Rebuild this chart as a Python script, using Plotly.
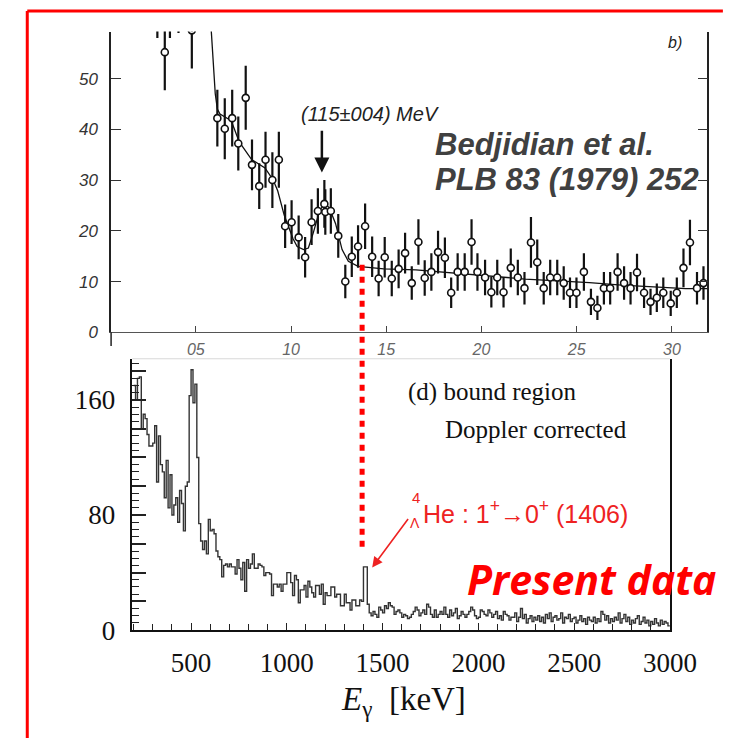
import plotly.graph_objects as go

W, H = 739, 742

# ---------------- top panel data (Bedjidian et al.) ----------------
top_energy_mev = [0.298, 0.337, 0.364, 0.409, 0.479, 0.613, 0.652, 0.691, 0.723, 0.762,
                  0.795, 0.833, 0.866, 0.902, 0.936, 0.969, 1.003, 1.040, 1.074, 1.108,
                  1.141, 1.175, 1.180, 1.209, 1.248, 1.285, 1.319, 1.352, 1.389, 1.426,
                  1.460, 1.492, 1.529, 1.565, 1.599, 1.634, 1.669, 1.702, 1.737, 1.772,
                  1.808, 1.841, 1.875, 1.912, 1.948, 1.979, 2.019, 2.052, 2.083, 2.116,
                  2.154, 2.191, 2.226, 2.260, 2.293, 2.327, 2.361, 2.398, 2.432, 2.465,
                  2.499, 2.538, 2.575, 2.609, 2.643, 2.676, 2.715, 2.749, 2.783, 2.817,
                  2.854, 2.888, 2.921, 2.955, 2.994, 3.026, 3.061, 3.095, 3.132, 3.166]
top_counts = [68, 55.2, 68, 68, 59.5, 42.2, 40.1, 42.2, 37.2, 46.2,
              33.0, 28.8, 34.0, 30.0, 34.0, 20.9, 21.7, 18.7, 14.8, 21.7,
              23.9, 25.3, 23.7, 23.9, 19.0, 10.0, 14.9, 16.9, 20.9, 14.9,
              10.6, 14.8, 10.6, 12.5, 15.6, 9.7, 17.8, 10.7, 11.9, 15.8,
              14.7, 7.8, 11.9, 11.9, 17.8, 11.9, 10.8, 7.9, 10.8, 7.9,
              12.7, 10.8, 8.7, 17.7, 13.8, 8.7, 10.8, 10.8, 9.7, 7.8,
              7.8, 11.9, 6.0, 4.8, 8.7, 8.7, 11.9, 9.7, 8.7, 11.8,
              7.8, 6.0, 6.8, 7.8, 5.7, 7.8, 12.7, 17.7, 8.7, 9.7]
top_err = [10, 7.5, 10, 9, 7.5, 5.6, 6, 5.6, 5.3, 6.3,
           5, 4.5, 5.5, 5.5, 5.5, 4.3, 4.3, 4.3, 4, 4.5,
           4.5, 4.7, 4.5, 4.5, 4.3, 3.3, 4, 4.2, 4.5, 4,
           3.5, 4, 3.5, 3.8, 4, 3.3, 4.5, 3.5, 3.7, 4.2,
           4, 3, 3.7, 3.7, 4.5, 3.7, 3.5, 3, 3.5, 3,
           3.8, 3.5, 3.2, 5, 4.5, 3.2, 3.5, 3.5, 3.3, 3,
           3, 3.7, 2.6, 2.4, 3.2, 3.2, 3.7, 3.3, 3.2, 3.7,
           3, 2.6, 2.8, 3, 2.5, 3, 3.8, 4.5, 3.2, 3.3]

fit_energy_mev = [0.570, 0.581, 0.591, 0.602, 0.613, 0.627, 0.686, 0.728, 0.794, 0.863,
                  0.905, 0.930, 0.964, 0.990, 1.010, 1.032, 1.066, 1.091, 1.116, 1.150,
                  1.175, 1.200, 1.234, 1.268, 1.301, 1.352, 1.386, 1.487, 1.656, 1.892,
                  2.230, 2.567, 2.736, 3.073, 3.187]
fit_counts = [66, 59, 52, 47, 44.0, 43.0, 41.7, 37.5, 34.0, 32.4,
              30.1, 27.9, 23.1, 20.5, 18.5, 16.9, 16.3, 16.6, 19.5, 24.0,
              25.3, 24.6, 21.4, 16.3, 14.0, 13.0, 12.9, 12.5, 12.3, 11.5,
              10.5, 9.8, 9.3, 8.6, 8.6]

top_tick_vals = [0.5, 1.0, 1.5, 2.0, 2.5, 3.0]
top_tick_text = ["05", "10", "15", "20", "25", "30"]
top_y_ticks = [0, 10, 20, 30, 40, 50]

# ---------------- bottom panel data (present data) ----------------
bin_start_kev = 200
bin_width_kev = 10
hist_counts = [
    170, 160, 175, 176, 140, 150, 147, 136, 128, 128,   # 200-290
    130, 142, 103, 135, 115, 110, 92, 118, 85, 108,     # 300-390
    80, 87, 92, 75, 97, 88, 69, 100, 103, 163,          # 400-490
    181, 158, 171, 120, 74, 62, 56, 62, 53, 77,         # 500-590
    69, 70, 67, 55, 51, 49, 37, 45, 46, 44,             # 600-690
    46, 44, 44, 39, 49, 43, 35, 47, 27, 49,             # 700-790
    43, 46, 53, 43, 43, 46, 45, 44, 38, 40,             # 800-890
    40, 39, 24, 32, 32, 30, 32, 27, 32, 32,             # 900-990
    40, 40, 33, 24, 38, 35, 19, 28, 28, 31,             # 1000-1090
    23, 34, 30, 26, 23, 31, 31, 25, 32, 18,             # 1100-1190
    26, 24, 24, 30, 30, 23, 25, 25, 17, 17,             # 1200-1290
    25, 19, 19, 14, 21, 21, 17, 17, 21, 20,             # 1300-1390
    44, 44, 18, 12, 10, 13, 11, 9, 16, 14,              # 1400-1490
    12, 17, 15, 19, 17, 16, 11, 13, 14, 12,             # 1500-1590
    9, 11, 10, 8, 9, 11, 13, 16, 14, 10,                # 1600-1690
    12, 14, 11, 18, 16, 11, 9, 14, 9, 11,               # 1700-1790
    13, 11, 16, 11, 9, 14, 10, 12, 15, 8,               # 1800-1890
    10, 13, 11, 9, 11, 13, 16, 14, 10, 8,               # 1900-1990
    9, 14, 13, 11, 10, 14, 12, 9, 11, 13,               # 2000-2090
    8, 10, 7, 13, 11, 10, 7, 9, 9, 12,                  # 2100-2190
    6, 9, 15, 8, 11, 5, 8, 10, 6, 9,                    # 2200-2290
    7, 10, 6, 9, 5, 11, 8, 12, 6, 9,                    # 2300-2390
    10, 7, 8, 12, 5, 9, 8, 11, 6, 8,                    # 2400-2490
    9, 5, 7, 10, 6, 8, 4, 9, 7, 6,                      # 2500-2590
    9, 5, 8, 6, 13, 11, 7, 10, 5, 8,                    # 2600-2690
    6, 9, 7, 12, 5, 8, 11, 6, 9, 4,                     # 2700-2790
    7, 5, 8, 10, 4, 6, 9, 5, 7, 3,                      # 2800-2890
    6, 4, 8, 5, 3, 7, 4, 6, 5, 3,                       # 2900-2990
]
bot_x_ticks = [500, 1000, 1500, 2000, 2500, 3000]
bot_y_ticks = [0, 80, 160]
bot_y_mid_ticks = list(range(0, 181, 20))
line_energy_kev = 1393

# build step histogram from bins
edges = [bin_start_kev + i * bin_width_kev for i in range(len(hist_counts) + 1)]
step_y = hist_counts + [hist_counts[-1]]


def px(x):
    return x / W


def py(y):
    return 1 - y / H


fig = go.Figure()

fig.add_trace(go.Scatter(x=fit_energy_mev, y=fit_counts, mode="lines",
                         line=dict(color="#111", width=1.3),
                         xaxis="x", yaxis="y", showlegend=False, hoverinfo="skip"))
fig.add_trace(go.Scatter(x=top_energy_mev, y=top_counts, mode="markers",
                         marker=dict(symbol="circle", size=7, color="white",
                                     line=dict(color="#111", width=1.6)),
                         error_y=dict(type="data", array=top_err, visible=True,
                                      color="#111", thickness=2.2, width=0),
                         xaxis="x", yaxis="y", showlegend=False))
fig.add_trace(go.Scatter(x=edges, y=step_y, mode="lines", line_shape="hv",
                         line=dict(color="#333", width=1.4),
                         xaxis="x2", yaxis="y2", showlegend=False))
# invisible trace to activate the tick-only overlay axis
fig.add_trace(go.Scatter(x=[edges[0]], y=[0], mode="markers", marker=dict(opacity=0),
                         xaxis="x2", yaxis="y3", showlegend=False, hoverinfo="skip"))

ital = dict(family="Liberation Sans", style="italic")
serif = "Liberation Serif"

fig.update_layout(
    width=W, height=H, margin=dict(l=0, r=0, t=0, b=0),
    paper_bgcolor="white", plot_bgcolor="rgba(0,0,0,0)",
    xaxis=dict(domain=[px(107), px(726)], range=[0.055, 3.187], anchor="y",
               showline=True, linecolor="#555", linewidth=1, ticks="inside",
               ticklen=6, tickcolor="#444", tickvals=top_tick_vals, ticktext=top_tick_text,
               tickfont=dict(size=16, color="#666", **ital), showgrid=False,
               zeroline=False, ticklabelstandoff=2),
    yaxis=dict(domain=[py(331), py(24)], range=[0, 59.27], anchor="x",
               showline=True, linecolor="#222", linewidth=1.5, mirror="ticks",
               ticks="inside", ticklen=10, tickcolor="#333", tickvals=top_y_ticks,
               tickfont=dict(size=17, color="#333", **ital), showgrid=False,
               zeroline=False, ticklabelstandoff=8),
    xaxis2=dict(domain=[px(129), px(687)], range=[193, 3000], anchor="y2",
                showline=True, linecolor="#111", linewidth=1.5, ticks="inside",
                ticklen=7, tickcolor="#222", tickwidth=1.3, tickvals=bot_x_ticks,
                minor=dict(dtick=100, tick0=0, ticklen=6, ticks="inside",
                           tickcolor="#222", tickwidth=1.3),
                tickfont=dict(size=27, color="#111", family=serif), showgrid=False,
                zeroline=False, ticklabelstandoff=8),
    yaxis2=dict(domain=[py(635), py(358)], range=[0, 188.6], anchor="x2",
                showline=True, linecolor="#111", linewidth=1.5, mirror=True,
                ticks="inside", ticklen=14, tickcolor="#222", tickwidth=1.5,
                tickvals=bot_y_ticks,
                minor=dict(dtick=5, tick0=0, ticklen=7, ticks="inside",
                           tickcolor="#222", tickwidth=1.3),
                tickfont=dict(size=27, color="#111", family=serif), showgrid=False,
                zeroline=False, ticklabelstandoff=10),
    yaxis3=dict(overlaying="y2", range=[0, 188.6], anchor="x2", side="left",
                showline=False, ticks="inside", ticklen=14, tickcolor="#222",
                tickwidth=1.5, tickvals=bot_y_mid_ticks, showticklabels=False,
                showgrid=False, zeroline=False),
)

ann = []
ann.append(dict(xref="paper", yref="paper", x=px(302), y=py(108), xanchor="left",
                yanchor="middle", text="(115±004) MeV", showarrow=False,
                font=dict(size=20, color="#222", **ital)))
ann.append(dict(xref="x", yref="y", x=1.162, y=31.5, ax=1.162, ay=40.0,
                axref="x", ayref="y", text="", showarrow=True, arrowhead=2,
                arrowsize=1.2, arrowwidth=2.5, arrowcolor="#111"))
ann.append(dict(xref="paper", yref="paper", x=px(441), y=py(139), xanchor="left",
                yanchor="middle", text="Bedjidian et al.", showarrow=False,
                font=dict(size=31, color="#404040", family="Liberation Sans",
                          weight="bold", style="italic")))
ann.append(dict(xref="paper", yref="paper", x=px(441), y=py(175), xanchor="left",
                yanchor="middle", text="PLB 83 (1979) 252", showarrow=False,
                font=dict(size=31, color="#404040", family="Liberation Sans",
                          weight="bold", style="italic")))
ann.append(dict(xref="paper", yref="paper", x=px(683), y=py(35), xanchor="left",
                yanchor="middle", text="b)", showarrow=False,
                font=dict(size=16, color="#222", **ital)))
ann.append(dict(xref="paper", yref="paper", x=px(413), y=py(392), xanchor="left",
                yanchor="middle", text="(d) bound region", showarrow=False,
                font=dict(size=25, color="#111", family=serif)))
ann.append(dict(xref="paper", yref="paper", x=px(452), y=py(430), xanchor="left",
                yanchor="middle", text="Doppler corrected", showarrow=False,
                font=dict(size=25, color="#111", family=serif)))
red = "#ee2222"
sans = "Liberation Sans"
ann.append(dict(xref="paper", yref="paper", x=px(423), y=py(500), xanchor="center",
                yanchor="middle", text="4", showarrow=False,
                font=dict(size=15, color=red, family=sans)))
ann.append(dict(xref="paper", yref="paper", x=px(422), y=py(526), xanchor="center",
                yanchor="middle", text="Λ", showarrow=False,
                font=dict(size=14, color=red, family=sans)))
ann.append(dict(xref="paper", yref="paper", x=px(429), y=py(514), xanchor="left",
                yanchor="middle",
                text="He : 1<sup>+</sup>→0<sup>+</sup> (1406)", showarrow=False,
                font=dict(size=25, color=red, family=sans)))
ann.append(dict(xref="paper", yref="paper", x=px(378), y=py(571),
                ax=37, ay=-50, axref="pixel", ayref="pixel", text="", showarrow=True,
                arrowhead=2, arrowsize=1.3, arrowwidth=1.6, arrowcolor=red))
ann.append(dict(xref="paper", yref="paper", x=px(474), y=py(583), xanchor="left",
                yanchor="middle", text="Present data", showarrow=False,
                font=dict(size=41, color="#ff0000", family="Open Sans",
                          weight="bold", style="italic")))
ann.append(dict(xref="paper", yref="paper", x=px(410), y=py(708), xanchor="center",
                yanchor="middle", text="<i>E</i><sub>γ</sub>  [keV]", showarrow=False,
                font=dict(size=33, color="#111", family=serif)))
fig.update_layout(annotations=ann)

shapes = [
    dict(type="line", xref="paper", yref="paper", x0=px(20), x1=px(20),
         y0=py(3), y1=py(745), line=dict(color="#ff0000", width=3)),
    dict(type="line", xref="paper", yref="paper", x0=px(20), x1=px(742),
         y0=py(3), y1=py(3), line=dict(color="#ff0000", width=3)),
    dict(type="line", xref="paper", yref="paper", x0=px(129), x1=px(687),
         y0=py(358), y1=py(358), line=dict(color="#d8d8d8", width=1)),
    dict(type="line", xref="paper", yref="paper", x0=px(107), x1=px(107),
         y0=py(331), y1=py(345), line=dict(color="#222", width=1.5)),
    dict(type="line", xref="x2", yref="paper", x0=line_energy_kev, x1=line_energy_kev,
         y0=py(262), y1=py(555), line=dict(color="#ff0000", width=5, dash="6px,6px")),
]
fig.update_layout(shapes=shapes)

fig.write_html("out.html")
